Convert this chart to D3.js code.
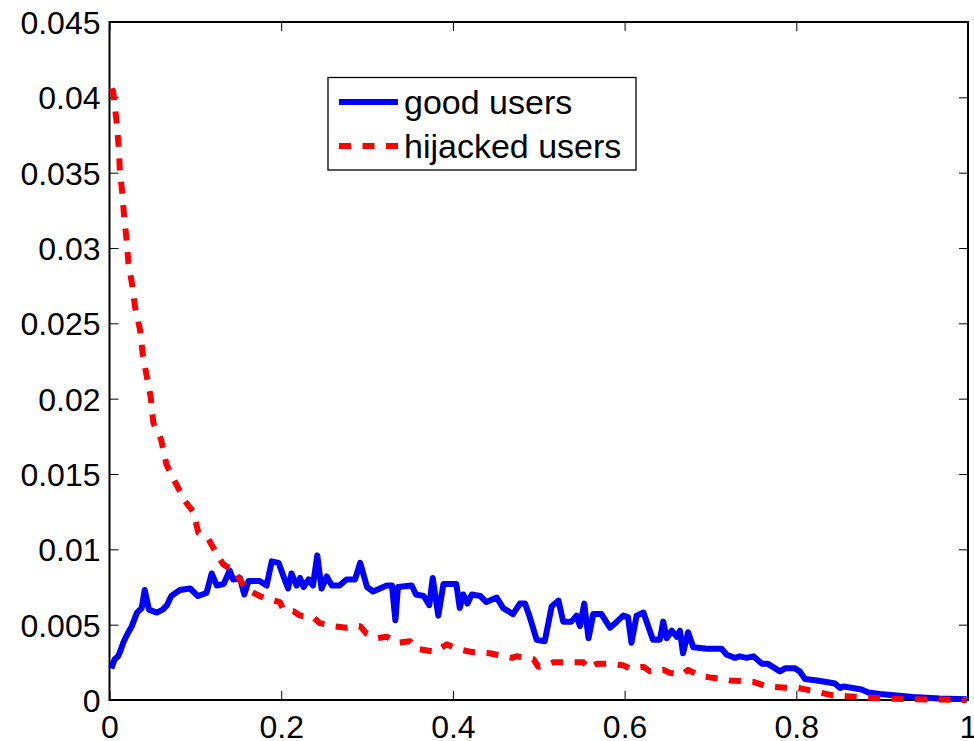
<!DOCTYPE html>
<html>
<head>
<meta charset="utf-8">
<script src="https://d3js.org/d3.v7.min.js"></script>
<style>
  body { margin: 0; background: #fff; }
  svg { display: block; }
</style>
</head>
<body>
<script>
// values: [x, y]
var goodUsers = [
  [.002,.0021],[.006,.0027],[.010,.0029],[.013,.0033],[.016,.0038],[.021,.0044],[.026,.0049],
  [.032,.0058],[.0375,.0061],[.041,.0073],[.046,.006],[.055,.0058],[.062,.006],[.067,.0063],
  [.072,.0069],[.082,.0073],[.094,.0074],[.103,.0069],[.113,.0071],[.119,.0084],[.125,.0076],
  [.133,.0077],[.140,.0086],[.144,.008],[.152,.0081],[.157,.007],[.162,.0079],[.175,.0079],
  [.183,.0076],[.189,.0092],[.197,.0091],[.204,.008],[.208,.0074],[.212,.0084],[.218,.0076],
  [.222,.0081],[.226,.0075],[.232,.008],[.237,.0076],[.242,.0096],[.247,.0074],[.253,.0082],
  [.259,.0076],[.268,.0076],[.276,.008],[.286,.008],[.292,.0091],[.300,.0075],[.307,.0072],
  [.315,.0074],[.323,.0076],[.329,.0076],[.333,.0053],[.336,.0075],[.352,.0076],[.357,.007],
  [.366,.0069],[.3725,.0063],[.3765,.0081],[.383,.0056],[.389,.0077],[.404,.0077],[.408,.0061],
  [.412,.007],[.417,.0064],[.422,.007],[.432,.0069],[.439,.0065],[.451,.0068],[.4585,.0061],
  [.470,.0057],[.478,.0064],[.484,.0064],[.489,.0056],[.4975,.004],[.507,.0039],[.515,.0062],
  [.523,.0066],[.5285,.0052],[.538,.0052],[.544,.0056],[.548,.0049],[.553,.0064],[.558,.0041],
  [.5635,.0057],[.573,.0057],[.583,.0048],[.591,.0052],[.5985,.0056],[.604,.0055],[.608,.0038],
  [.614,.0056],[.622,.0058],[.6275,.0049],[.633,.004],[.641,.004],[.645,.0052],[.649,.0041],
  [.655,.0046],[.661,.0042],[.6645,.0046],[.668,.0031],[.674,.0045],[.680,.0035],[.696,.0034],
  [.713,.0034],[.719,.003],[.7285,.0028],[.734,.0029],[.742,.0028],[.750,.0029],[.760,.0024],
  [.767,.0024],[.781,.0019],[.787,.0021],[.7985,.0021],[.804,.0019],[.810,.0014],[.824,.0013],
  [.835,.0012],[.845,.0011],[.851,.0008],[.855,.0009],[.866,.0008],[.876,.0007],[.884,.0005],
  [.8975,.0004],[.917,.0003],[.936,.0002],[.967,.0001],[.9985,.00005]
];

var hijackedUsers = [
  [.003,.0406],[.0045,.0403],[.0084,.0383],[.011,.0365],[.012,.0352],[.015,.0336],[.017,.0321],
  [.020,.0305],[.022,.029],[.026,.0277],[.0297,.0261],[.0355,.0246],[.039,.0228],[.043,.0216],
  [.048,.0201],[.051,.0184],[.06,.0173],[.0665,.0156],[.078,.0143],[.088,.0132],[.0975,.0125],
  [.1035,.0111],[.115,.0107],[.127,.0095],[.1325,.009],[.144,.0086],[.152,.008],[.158,.0074],
  [.175,.0069],[.183,.0067],[.1985,.0065],[.2025,.006],[.214,.0059],[.222,.0056],[.237,.0055],
  [.245,.0051],[.261,.0049],[.276,.0048],[.292,.0049],[.2995,.0044],[.311,.0041],[.323,.0042],
  [.3345,.0038],[.35,.0039],[.358,.0034],[.379,.0032],[.393,.0037],[.4045,.0034],[.42,.0032],
  [.443,.0031],[.451,.003],[.4685,.0028],[.474,.0029],[.494,.0027],[.4995,.0022],[.509,.0023],
  [.517,.0025],[.5325,.0025],[.552,.0025],[.558,.0021],[.5675,.0024],[.583,.0024],[.5985,.0023],
  [.606,.0021],[.622,.0022],[.6295,.0019],[.645,.002],[.653,.0018],[.6665,.0017],[.674,.002],
  [.688,.0016],[.6995,.0015],[.715,.0014],[.723,.0013],[.75,.0012],[.7655,.0009],[.7925,.0008],
  [.8025,.0008],[.82,.0006],[.843,.0003],[.874,.0002],[.905,.0001],[.936,.00005],[.998,0]
];

var xTicks = [0, 0.2, 0.4, 0.6, 0.8, 1];
var yTicks = [0, 0.005, 0.01, 0.015, 0.02, 0.025, 0.03, 0.035, 0.04, 0.045];
var seriesNames = ["good users", "hijacked users"];

var width = 974, height = 741;
var mLeft = 109.5, mRight = 968, mTop = 22, mBottom = 700;
var font = "'Liberation Sans', Arial, Helvetica, sans-serif";

var svg = d3.select("body").append("svg")
  .attr("width", width)
  .attr("height", height);

var x = d3.scaleLinear().domain([0, 1]).range([mLeft, mRight]);
var y = d3.scaleLinear().domain([0, 0.045]).range([mBottom, mTop]);

var tickLen = 9;

// axes with inward ticks
var fmt = function(d) { return String(+d.toFixed(3)); };

var xAxis = svg.append("g")
  .attr("transform", "translate(0," + mBottom + ")")
  .call(d3.axisBottom(x).tickValues(xTicks).tickSizeInner(-tickLen).tickSizeOuter(0).tickPadding(16).tickFormat(fmt));
var xAxisTop = svg.append("g")
  .attr("transform", "translate(0," + mTop + ")")
  .call(d3.axisTop(x).tickValues(xTicks).tickSizeInner(-tickLen).tickSizeOuter(0).tickFormat(""));
var yAxis = svg.append("g")
  .attr("transform", "translate(" + mLeft + ",0)")
  .call(d3.axisLeft(y).tickValues(yTicks).tickSizeInner(-tickLen).tickSizeOuter(0).tickPadding(9).tickFormat(fmt));
var yAxisRight = svg.append("g")
  .attr("transform", "translate(" + mRight + ",0)")
  .call(d3.axisRight(y).tickValues(yTicks).tickSizeInner(-tickLen).tickSizeOuter(0).tickFormat(""));

[xAxis, xAxisTop, yAxis, yAxisRight].forEach(function(a) {
  a.select(".domain").remove();
  a.selectAll(".tick line").attr("stroke", "#000").attr("stroke-width", 1);
  a.selectAll("text")
    .attr("fill", "#000")
    .style("font-family", font)
    .style("font-size", "32px");
});
yAxis.selectAll("text").attr("dy", "0.36em");
xAxis.selectAll("text").attr("dy", "0.7em");

// plot box
svg.append("rect")
  .attr("x", mLeft).attr("y", mTop)
  .attr("width", mRight - mLeft).attr("height", mBottom - mTop)
  .attr("fill", "none")
  .attr("stroke", "#000")
  .attr("stroke-width", 2);

var line = d3.line()
  .x(function(d) { return x(d[0]); })
  .y(function(d) { return y(d[1]); });

svg.append("path")
  .datum(goodUsers)
  .attr("d", line)
  .attr("fill", "none")
  .attr("stroke", "#0000ff")
  .attr("stroke-width", 6)
  .attr("stroke-linejoin", "round");

svg.append("path")
  .datum(hijackedUsers)
  .attr("d", line)
  .attr("fill", "none")
  .attr("stroke", "#ff0000")
  .attr("stroke-width", 6)
  .attr("stroke-dasharray", "12,11.5")
  .attr("stroke-linejoin", "round");

// legend
var legend = svg.append("g");
legend.append("rect")
  .attr("x", 328).attr("y", 77.5)
  .attr("width", 308).attr("height", 92.5)
  .attr("fill", "#fff")
  .attr("stroke", "#000")
  .attr("stroke-width", 1.3);

var legendRows = [
  { name: seriesNames[0], color: "#0000ff", dash: null, y: 102 },
  { name: seriesNames[1], color: "#ff0000", dash: "12,11.5", y: 146 }
];
legendRows.forEach(function(r) {
  legend.append("line")
    .attr("x1", 339).attr("x2", 398)
    .attr("y1", r.y).attr("y2", r.y)
    .attr("stroke", r.color)
    .attr("stroke-width", 6)
    .attr("stroke-dasharray", r.dash);
  legend.append("text")
    .attr("x", 404).attr("y", r.y + 12)
    .style("font-family", font)
    .style("font-size", "34px")
    .attr("fill", "#000")
    .text(r.name);
});
</script>
</body>
</html>
